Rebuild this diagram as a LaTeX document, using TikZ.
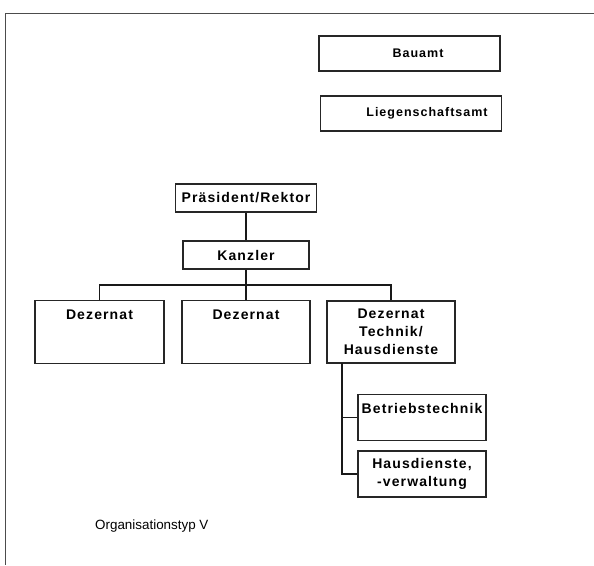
\documentclass[tikz,border=0pt]{standalone}
\usepackage{fontspec}
\setmainfont{Liberation Sans}
\newfontfamily\boxfont{Liberation Sans}[LetterSpace=8]
\begin{document}
\begin{tikzpicture}[x=1pt,y=-1pt,
  unit/.style={draw=black!85, line width=1.1pt, inner sep=0pt, align=center,
    font=\boxfont\fontsize{14}{18}\bfseries},
  office/.style={draw=black!85, line width=1.1pt, inner sep=0pt,
    minimum width=181pt, minimum height=35pt},
  officetext/.style={font=\boxfont\fontsize{12.5}{14}\bfseries, inner sep=0pt},
  link/.style={draw=black!90, line width=1.4pt}]
\useasboundingbox (0,0) rectangle (594,565);
\fill[white] (0,0) rectangle (594,565);

% frame (only top and left edges fall inside the page)
\draw[black!70, line width=0.9pt] (594,13) -- (5,13) -- (5,565);

% offices outside the hierarchy
\node[office] (bau) at (409.5,53.5) {};
\node[officetext] (bautxt) at (418,53.5) {Bauamt};
\node[office] (lieg) at (411,113.5) {};
\node[officetext] (liegtxt) at (427,113.5) {Liegenschaftsamt};

% management
\node[unit, minimum width=141pt, minimum height=28pt] (praes) at (246,198) {Präsident/Rektor};
\node[unit, minimum width=126pt, minimum height=28pt] (kanz) at (246,255) {Kanzler};

% departments
\node[unit, anchor=north, minimum width=129pt, text height=19pt, text depth=44pt] (d1) at (99.5,300) {Dezernat};
\node[unit, anchor=north, minimum width=128pt, text height=19pt, text depth=44pt] (d2) at (246,300) {Dezernat};
\node[unit, minimum width=128pt, minimum height=62pt] (d3) at (391,332) {Dezernat\\Technik/\\Hausdienste};

% sub-units of the technical department
\node[unit, anchor=north, minimum width=128pt, text height=19pt, text depth=27pt] (b1) at (422,394) {Betriebstechnik};
\node[unit, minimum width=128pt, minimum height=46pt] (b2) at (422,474) {Hausdienste,\\-verwaltung};

% connectors
\coordinate (bus) at (246,285);
\coordinate (trunk) at (342,363);
\draw[link] (praes.south) -- (kanz.north);
\draw[link] (kanz.south) -- (d2.north);
\draw[link] (d1.north) |- (bus) -| (d3.north);
\draw[link] (trunk) |- (b2.west);
\draw[link] (b1.west) -- (b1.west -| trunk);

% caption
\node[font=\fontsize{13.4}{16}\selectfont, anchor=west, inner sep=0pt] (caption) at (95,526) {Organisationstyp V};
\end{tikzpicture}
\end{document}
